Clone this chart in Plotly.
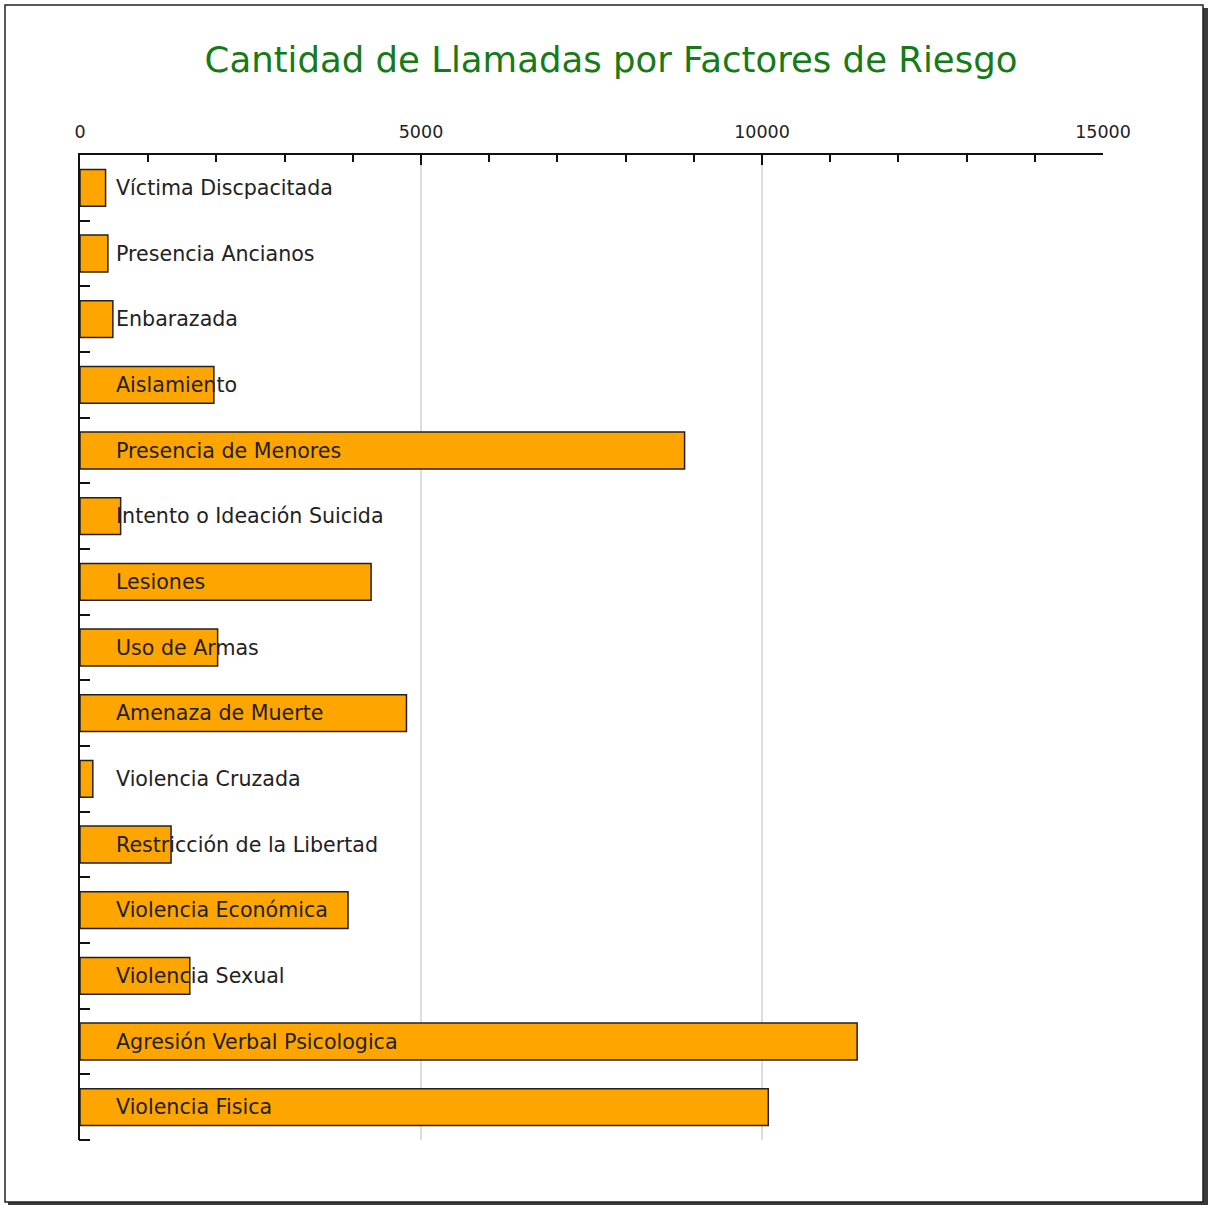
import plotly.graph_objects as go

# ---- data ----
categories = [
    "Víctima Discpacitada",
    "Presencia Ancianos",
    "Enbarazada",
    "Aislamiento",
    "Presencia de Menores",
    "Intento o Ideación Suicida",
    "Lesiones",
    "Uso de Armas",
    "Amenaza de Muerte",
    "Violencia Cruzada",
    "Restricción de la Libertad",
    "Violencia Económica",
    "Violencia Sexual",
    "Agresión Verbal Psicologica",
    "Violencia Fisica",
]
values = [375, 409, 482, 1963, 8865, 596, 4268, 2018, 4787, 188, 1335, 3930, 1610, 11395, 10092]
x_tickvals = [0, 5000, 10000, 15000]
x_ticktext = ["0", "5000", "10000", "15000"]
title_text = "Cantidad de Llamadas por Factores de Riesgo"

# ---- layout geometry ----
W, H = 1208, 1205
L, R, T, B = 80, 105, 155, 65
PW, PH = W - L - R, H - T - B


def xp(px):
    return (px - L) / PW


def yp(py):
    return (H - B - py) / PH


FONT = "DejaVu Sans, Verdana, sans-serif"

fig = go.Figure()
fig.add_trace(go.Bar(
    y=categories,
    x=values,
    orientation="h",
    width=0.56,
    marker=dict(color="#FFA500", line=dict(color="#222222", width=1.5)),
    hoverinfo="x+y",
))

annotations = []
for c in categories:
    annotations.append(dict(
        x=0, y=c, xref="x", yref="y", text=c, showarrow=False,
        xanchor="left", yanchor="middle", xshift=34,
        font=dict(family=FONT, size=20.6, color="#222222"),
    ))

shapes = [
    # shadow
    dict(type="rect", xref="paper", yref="paper", layer="below",
         x0=xp(8), x1=xp(1208), y0=yp(1205), y1=yp(8),
         fillcolor="#3a3a3a", line=dict(width=0)),
    # frame
    dict(type="rect", xref="paper", yref="paper", layer="below",
         x0=xp(5), x1=xp(1203), y0=yp(1202), y1=yp(5),
         fillcolor="white", line=dict(color="#222222", width=1.5)),
    # bottom-end tick of the category axis
    dict(type="line", xref="paper", yref="paper", layer="above",
         x0=xp(79), x1=xp(90), y0=0, y1=0,
         line=dict(color="#111111", width=2)),
]

fig.update_layout(
    width=W, height=H,
    margin=dict(l=L, r=R, t=T, b=B, pad=0),
    paper_bgcolor="white",
    plot_bgcolor="rgba(0,0,0,0)",
    showlegend=False,
    title=dict(text=title_text, x=(611) / W, xanchor="center",
               y=1 - 60 / H, yanchor="middle", xref="container", yref="container",
               font=dict(family=FONT, size=35.5, color="#177a17")),
    annotations=annotations,
    shapes=shapes,
    xaxis=dict(
        side="top", range=[0, 15000],
        tickvals=x_tickvals, ticktext=x_ticktext,
        ticks="inside", ticklen=10, tickwidth=2, tickcolor="#111111",
        minor=dict(dtick=1000, ticks="inside", ticklen=7, tickwidth=2,
                   tickcolor="#111111", showgrid=False),
        showline=True, linecolor="#111111", linewidth=2,
        showgrid=True, gridcolor="#dddddd", gridwidth=1.5,
        zeroline=False,
        tickfont=dict(family=FONT, size=17.5, color="#222222"),
        ticklabelstandoff=8,
        fixedrange=True,
    ),
    yaxis=dict(
        range=[len(categories) - 0.5, -0.5],
        showticklabels=False,
        ticks="inside", tickson="boundaries", ticklen=10, tickwidth=2,
        tickcolor="#111111",
        showline=True, linecolor="#111111", linewidth=2,
        showgrid=False, zeroline=False,
        fixedrange=True,
    ),
)

fig.write_html("out.html", post_script="document.body.style.margin='0px';",
               config={"displayModeBar": False})
